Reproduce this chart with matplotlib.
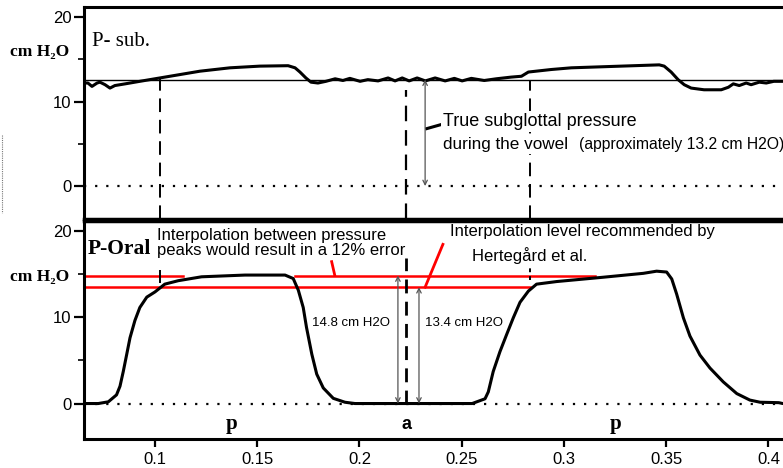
import matplotlib
matplotlib.use("Agg")
import matplotlib.pyplot as plt
from matplotlib.ticker import FixedLocator
from matplotlib.lines import Line2D

# ---------------- data ----------------
# subglottal pressure trace (time s, cm H2O)
sub_t = [0.0658, 0.0672, 0.0692, 0.0717, 0.0731, 0.0756, 0.0780, 0.0804, 0.0854, 0.0926,
         0.1024, 0.1122, 0.1220, 0.1367, 0.1513, 0.1651, 0.1685, 0.1709, 0.1738, 0.1763,
         0.1797, 0.1836, 0.1881, 0.1919, 0.1953, 0.2003, 0.2041, 0.2091, 0.2140, 0.2174,
         0.2209, 0.2243, 0.2282, 0.2322, 0.2370, 0.2419, 0.2464, 0.2502, 0.2547, 0.2610,
         0.2669, 0.2742, 0.2792, 0.2826, 0.2938, 0.3036, 0.3280, 0.3466, 0.3490, 0.3524,
         0.3558, 0.3588, 0.3622, 0.3685, 0.3769, 0.3804, 0.3828, 0.3857, 0.3891, 0.3915,
         0.3955, 0.3989, 0.4026, 0.4070]
sub_v = [12.2, 12.2, 11.8, 12.2, 12.3, 12.0, 11.6, 11.9, 12.1, 12.4,
         12.8, 13.2, 13.6, 14.0, 14.2, 14.25, 14.0, 13.5, 12.8, 12.3,
         12.2, 12.4, 12.7, 12.5, 12.75, 12.4, 12.6, 12.45, 12.8, 12.45,
         12.8, 12.45, 12.8, 12.45, 12.8, 12.45, 12.75, 12.45, 12.75, 12.5,
         12.7, 12.9, 13.0, 13.5, 13.8, 14.0, 14.2, 14.35, 14.2, 13.5,
         12.6, 12.0, 11.6, 11.4, 11.4, 11.7, 12.1, 11.9, 12.2, 12.0,
         12.3, 12.2, 12.4, 12.4]

# oral pressure trace (time s, cm H2O)
oral_t = [0.0658, 0.0723, 0.0772, 0.0812, 0.0829, 0.0845, 0.0862, 0.0878, 0.0902, 0.0926,
          0.0960, 0.1000, 0.1048, 0.1114, 0.1228, 0.1440, 0.1636, 0.1676, 0.1701, 0.1725,
          0.1741, 0.1767, 0.1791, 0.1823, 0.1872, 0.1929, 0.1978, 0.2551, 0.2614, 0.2630,
          0.2654, 0.2687, 0.2720, 0.2752, 0.2785, 0.2826, 0.2866, 0.2964, 0.3192, 0.3388,
          0.3453, 0.3502, 0.3527, 0.3551, 0.3584, 0.3616, 0.3665, 0.3714, 0.3779, 0.3845,
          0.3909, 0.3959, 0.4050, 0.4070]
oral_v = [0.0, 0.0, 0.2, 1.0, 2.0, 3.7, 5.7, 7.6, 9.6, 11.1,
          12.3, 12.9, 13.8, 14.2, 14.65, 14.85, 14.85, 14.45, 13.1, 11.1,
          8.8, 5.7, 3.4, 1.8, 0.6, 0.15, 0.0, 0.0, 0.55, 1.35,
          3.7, 6.0, 8.0, 9.9, 11.7, 13.0, 13.8, 14.1, 14.6, 15.05,
          15.3, 15.2, 14.4, 12.65, 9.9, 7.8, 5.6, 4.1, 2.5, 1.15,
          0.4, 0.15, 0.1, 0.0]

true_sub = 12.6          # horizontal reference level in P-sub panel
peak_level = 14.8        # interpolation between peaks
hert_level = 13.45       # Hertegard level
marks_t = [0.1024, 0.2229, 0.2836]   # dashed time markers
x_ticks = [0.1, 0.15, 0.2, 0.25, 0.3, 0.35, 0.4]
x_tick_labels = ["0.1", "0.15", "0.2", "0.25", "0.3", "0.35", "0.4"]
y_ticks = [0, 10, 20]
y_minor = [5, 15]

XMIN, XMAX = 0.0653, 0.4071

# ---------------- figure ----------------
W, H = 783, 468
fig = plt.figure(figsize=(W / 100, H / 100), dpi=100)
sans = ["Liberation Sans", "DejaVu Sans"]
serif = ["Liberation Serif", "DejaVu Serif"]

left = 84 / W
ax1 = fig.add_axes([left, 1 - 219 / H, 1 - left, (219 - 7) / H])
ax2 = fig.add_axes([left, 1 - 439 / H, 1 - left, (439 - 221) / H])

for ax, ylim in ((ax1, (-3.9, 21.2)), (ax2, (-4.1, 21.1))):
    ax.set_xlim(XMIN, XMAX)
    ax.set_ylim(*ylim)
    ax.spines["right"].set_visible(False)
    for s in ("left", "top", "bottom"):
        ax.spines[s].set_linewidth(2.2)
    ax.yaxis.set_major_locator(FixedLocator(y_ticks))
    ax.yaxis.set_minor_locator(FixedLocator(y_minor))
    ax.tick_params(axis="y", which="major", length=7, width=1.6, direction="out",
                   labelsize=12, pad=2)
    ax.tick_params(axis="y", which="minor", length=4, width=1.2, direction="out")
    for lab in ax.get_yticklabels():
        lab.set_family(sans)
    ax.axhline(0, xmin=0, xmax=1, color="black", lw=1.6, ls=(0, (1, 4)), zorder=1)

ax1.set_xticks([])
ax2.set_xticks(x_ticks)
ax2.set_xticklabels(x_tick_labels, family=sans, fontsize=12)
ax2.tick_params(axis="x", length=6, width=1.6, direction="out", pad=3)
ax1.spines["bottom"].set_linewidth(2.5)
ax2.spines["top"].set_linewidth(2.5)

# ---- top panel ----
ax1.axhline(true_sub, color="black", lw=1.0, zorder=2)
ax1.plot(sub_t, sub_v, color="black", lw=2.2, zorder=3, solid_capstyle="round",
         solid_joinstyle="round")
ax1.vlines(marks_t[0], -3.9, 12.8, colors="black", lw=1.4, linestyles=(0, (7, 4)))
ax1.vlines(marks_t[1], -3.9, 11.4, colors="black", lw=1.6, linestyles=(0, (7, 4)))
ax1.vlines(marks_t[2], -3.9, 12.6, colors="black", lw=1.4, linestyles=(0, (7, 4)))
ax1.annotate("", xy=(0.2321, 0), xytext=(0.2321, true_sub),
             arrowprops=dict(arrowstyle="<->", color="#555555", lw=0.9,
                             shrinkA=0, shrinkB=0, mutation_scale=8))
ax1.plot([0.2329, 0.2402], [6.8, 7.3], color="black", lw=2.2)
wbox = dict(facecolor="white", edgecolor="none", pad=1.5)
ax1.text(0.2408, 7.65, "True subglottal pressure", family=sans, fontsize=13,
         va="center", ha="left", bbox=wbox, zorder=4)
ax1.text(0.2408, 4.95, "during the vowel", family=sans, fontsize=12.3,
         va="center", ha="left", bbox=wbox, zorder=4)
ax1.text(0.3073, 4.95, "(approximately 13.2 cm H2O)", family=sans, fontsize=11.3,
         va="center", ha="left")
ax1.text(0.0692, 17.1, "P- sub.", family=serif, fontsize=15, va="center", ha="left")

# ---- bottom panel ----
ax2.plot([XMIN + 0.0011, 0.1137], [peak_level] * 2, color="red", lw=1.8, zorder=2)
ax2.plot([0.1685, 0.3152], [peak_level] * 2, color="red", lw=1.8, zorder=2)
ax2.plot([XMIN + 0.0011, 0.2834], [hert_level] * 2, color="red", lw=1.8, zorder=2)
ax2.plot([0.1864, 0.1879], [16.4, 14.85], color="red", lw=2.0)
ax2.plot([0.2408, 0.2321], [18.4, 13.45], color="red", lw=2.0)
ax2.plot(oral_t, oral_v, color="black", lw=2.2, zorder=3, solid_capstyle="round",
         solid_joinstyle="round")
ax2.vlines(marks_t[0], 13.9, 15.4, colors="black", lw=1.4)
ax2.vlines(marks_t[1], 0, 16.8, colors="black", lw=2.0, linestyles=(0, (5, 3)))
ax2.vlines(marks_t[2], 14.3, 16.0, colors="black", lw=1.4, linestyles=(0, (2, 2)))
for t_arr, lvl in ((0.2188, peak_level), (0.2291, hert_level)):
    ax2.annotate("", xy=(t_arr, 0), xytext=(t_arr, lvl),
                 arrowprops=dict(arrowstyle="<->", color="#555555", lw=0.9,
                                 shrinkA=0, shrinkB=0, mutation_scale=8))
ax2.text(0.1010, 18.6, "Interpolation between pressure\npeaks would result in a 12% error",
         family=sans, fontsize=12, va="center", ha="left", linespacing=1.0)
ax2.text(0.2443, 19.9, "Interpolation level recommended by", family=sans,
         fontsize=12, va="center", ha="left")
ax2.text(0.2830, 17.1, "Hertegård et al.", family=sans, fontsize=12,
         va="center", ha="center")
ax2.text(0.1768, 9.3, "14.8 cm H2O", family=sans, fontsize=9.5, va="center", ha="left")
ax2.text(0.2321, 9.3, "13.4 cm H2O", family=sans, fontsize=9.5, va="center", ha="left")
ax2.text(0.0672, 17.9, "P-Oral", family=serif, fontsize=15.5, fontweight="bold",
         va="center", ha="left")
ax2.text(0.1376, -2.4, "p", family=serif, fontsize=15, fontweight="bold",
         va="center", ha="center")
ax2.text(0.2232, -2.4, "a", family=sans, fontsize=13, fontweight="bold",
         va="center", ha="center")
ax2.text(0.3250, -2.4, "p", family=serif, fontsize=15, fontweight="bold",
         va="center", ha="center")

# units labels at the left margin
fig.text(10 / W, 1 - 52 / H, "cm H₂O", family=serif, fontsize=12.5, fontweight="bold",
         va="center", ha="left")
fig.text(10 / W, 1 - 277 / H, "cm H₂O", family=serif, fontsize=12.5, fontweight="bold",
         va="center", ha="left")

# faint dotted mark at the far left edge
fig.add_artist(Line2D([2 / W, 2 / W], [1 - 135 / H, 1 - 213 / H], color="#777777",
                      lw=0.8, ls=(0, (1, 1))))

fig.savefig("out.png", dpi=100)
